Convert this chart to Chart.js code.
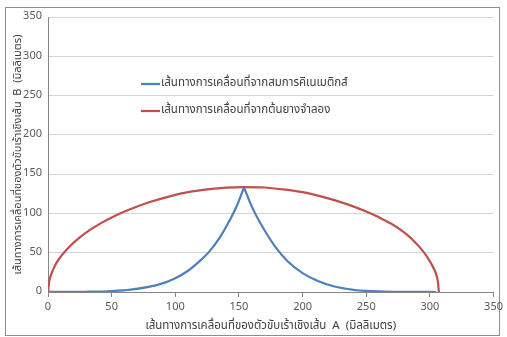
<!DOCTYPE html>
<html>
<head>
<meta charset="utf-8">
<script src="https://cdn.jsdelivr.net/npm/chart.js@4/dist/chart.umd.min.js"></script>
<style>
  html, body { margin: 0; padding: 0; background: #fff; }
  #wrap { position: relative; width: 507px; height: 337px; }
</style>
</head>
<body>
<div id="wrap">
  <canvas id="pathChart" width="507" height="337"></canvas>
</div>

<script>
  // axis ticks (mm)
  var xTicks = [0, 50, 100, 150, 200, 250, 300, 350];
  var yTicks = [0, 50, 100, 150, 200, 250, 300, 350];

  // path from the kinematic equations
  var kinX = [0, 30, 50, 65, 80, 90, 100, 110, 120, 127, 135, 142, 148, 154, 160, 166, 172, 179, 188, 200, 212, 225, 240, 250, 270, 305];
  var kinY = [0, 0.3, 1.2, 3, 6.8, 11, 17.5, 27, 40.5, 52, 69.5, 89, 108.5, 133, 109, 90, 73.5, 56.5, 39.5, 24, 14, 7, 2.8, 1.3, 0.2, 0];

  // path measured on the model rubber tree
  var treeX = [0, 1, 2, 4, 7, 12, 18, 25, 33, 42, 52, 64, 80, 95, 110, 125, 140, 154, 170, 185, 200, 215, 225, 237, 249, 260, 270, 280, 288, 295, 300, 303, 305, 306.3, 307];
  var treeY = [0, 14, 20, 28.5, 38, 49, 59.5, 69.5, 79, 88, 96.5, 105, 114.5, 121.5, 127, 130.5, 132.8, 133.5, 133, 130.5, 127, 121.5, 117, 110.5, 103, 95, 86.5, 75.5, 64, 51, 39, 30, 22, 13, 0];

  var seriesNames = [
    "เส้นทางการเคลื่อนที่จากสมการคิเนเมติกส์",
    "เส้นทางการเคลื่อนที่จากต้นยางจำลอง"
  ];
  var xTitle = "เส้นทางการเคลื่อนที่ของตัวขับเร้าเชิงเส้น  A  (มิลลิเมตร)";
  var yTitle = "เส้นทางการเคลื่อนที่ของตัวขับเร้าเชิงเส้น  B  (มิลลิเมตร)";

  var BLUE = "#4f81bd";
  var RED = "#c0504d";
  var FONT = "Tahoma, 'Noto Sans Thai', 'Noto Sans', 'DejaVu Sans', sans-serif";

  function toPoints(xs, ys) {
    return xs.map(function (x, i) { return { x: x, y: ys[i] }; });
  }

  // kinematic path has a sharp cusp: split at the peak so the smoothing keeps it
  var peak = kinY.indexOf(Math.max.apply(null, kinY));
  var kinLeft = toPoints(kinX.slice(0, peak + 1), kinY.slice(0, peak + 1));
  var kinRight = toPoints(kinX.slice(peak), kinY.slice(peak));

  function lineSet(label, data, color) {
    return {
      label: label,
      data: data,
      showLine: true,
      borderColor: color,
      backgroundColor: color,
      borderWidth: 2.25,
      pointRadius: 0,
      cubicInterpolationMode: "monotone",
      fill: false
    };
  }

  // frame round the whole chart
  var frame = {
    id: "frame",
    beforeDraw: function (chart) {
      var ctx = chart.ctx;
      ctx.save();
      ctx.strokeStyle = "#8c8c8c";
      ctx.lineWidth = 1;
      ctx.strokeRect(5.5, 7.5, 494, 328);
      ctx.restore();
    }
  };

  // legend drawn inside the plot
  var innerLegend = {
    id: "innerLegend",
    afterDatasetsDraw: function (chart) {
      var ctx = chart.ctx;
      var items = [{ text: seriesNames[0], color: BLUE }, { text: seriesNames[1], color: RED }];
      ctx.save();
      ctx.font = "11.5px " + FONT;
      ctx.textBaseline = "middle";
      items.forEach(function (item, i) {
        var y = 84 + i * 27;
        ctx.strokeStyle = item.color;
        ctx.lineWidth = 2.25;
        ctx.beginPath();
        ctx.moveTo(141, y);
        ctx.lineTo(160, y);
        ctx.stroke();
        ctx.fillStyle = "#404040";
        ctx.fillText(item.text, 161, y);
      });
      ctx.restore();
    }
  };

  var config = {
    type: "scatter",
    data: {
      datasets: [
        lineSet(seriesNames[0], kinLeft, BLUE),
        lineSet(seriesNames[0], kinRight, BLUE),
        lineSet(seriesNames[1], toPoints(treeX, treeY), RED)
      ]
    },
    options: {
      responsive: false,
      animation: false,
      layout: { padding: { left: 6, top: 17, right: 11, bottom: 2 } },
      plugins: {
        legend: { display: false },
        tooltip: { enabled: false }
      },
      scales: {
        x: {
          type: "linear",
          min: 0,
          max: 350,
          afterBuildTicks: function (scale) {
            scale.ticks = xTicks.map(function (v) { return { value: v }; });
          },
          afterFit: function (scale) { scale.height = 43; },
          grid: {
            drawOnChartArea: false,
            drawTicks: true,
            tickLength: 5,
            color: "#868686"
          },
          border: { color: "#868686" },
          ticks: {
            padding: 4,
            maxRotation: 0,
            color: "#595959",
            font: { family: FONT, size: 11 }
          },
          title: {
            display: true,
            text: xTitle,
            color: "#404040",
            padding: { top: 4, bottom: 1 },
            font: { family: FONT, size: 11.5 }
          }
        },
        y: {
          type: "linear",
          min: 0,
          max: 350,
          afterBuildTicks: function (scale) {
            scale.ticks = yTicks.map(function (v) { return { value: v }; });
          },
          afterFit: function (scale) { scale.width = 42; },
          grid: {
            drawTicks: false,
            color: "#d4d4d4"
          },
          border: { color: "#868686" },
          ticks: {
            padding: 6,
            color: "#595959",
            font: { family: FONT, size: 11 }
          },
          title: {
            display: true,
            text: yTitle,
            color: "#404040",
            padding: { top: 6, bottom: 0 },
            font: { family: FONT, size: 11 }
          }
        }
      }
    },
    plugins: [frame, innerLegend]
  };

  new Chart(document.getElementById("pathChart"), config);
</script>
</body>
</html>
